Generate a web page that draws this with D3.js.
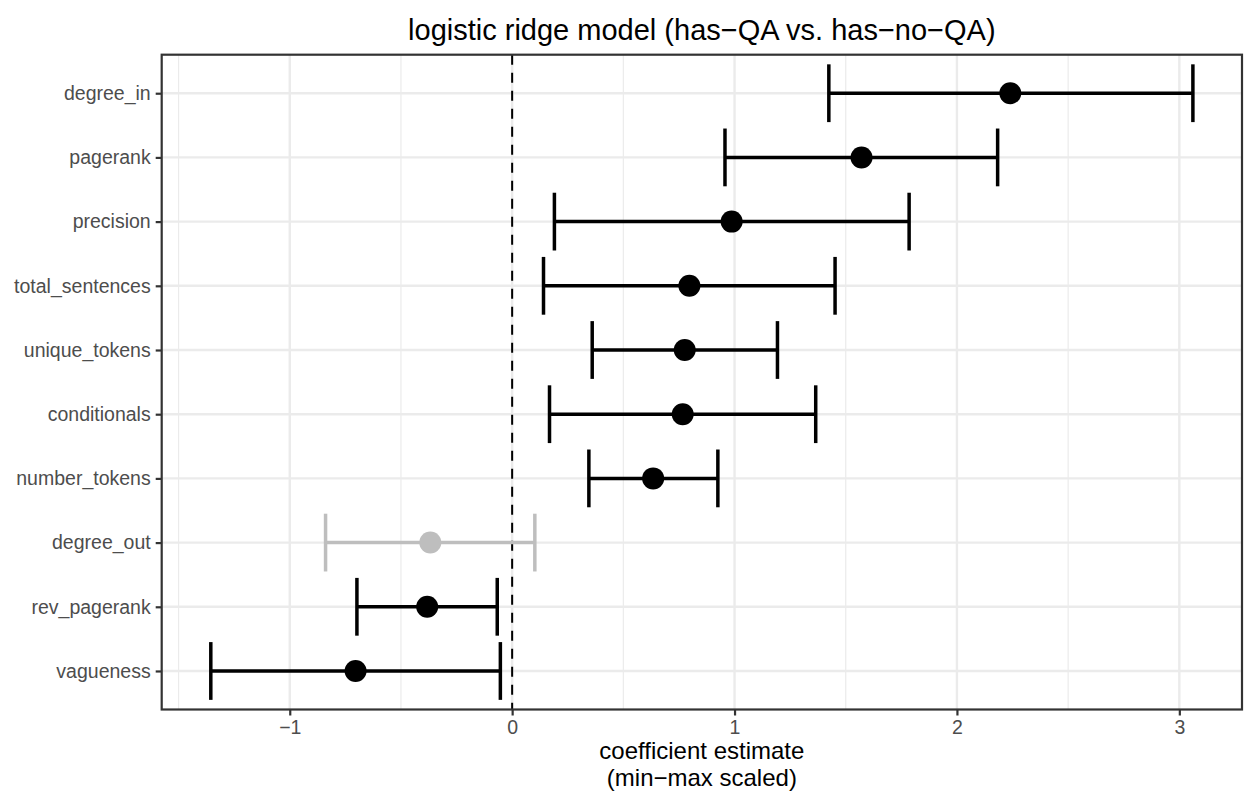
<!DOCTYPE html>
<html>
<head>
<meta charset="utf-8">
<script src="https://cdn.jsdelivr.net/npm/d3@7"></script>
<style>
  body { margin: 0; background: #fff; }
  svg { display: block; font-family: 'Liberation Sans', Arial, Helvetica, sans-serif; }
</style>
</head>
<body>
<svg id="chart"></svg>
<script>
// Data (top row first)
const features = ['degree_in', 'pagerank', 'precision', 'total_sentences', 'unique_tokens',
  'conditionals', 'number_tokens', 'degree_out', 'rev_pagerank', 'vagueness'];
const estimates = [2.24, 1.571, 0.987, 0.797, 0.776, 0.767, 0.634, -0.368, -0.382, -0.704];
const lower = [1.424, 0.957, 0.19, 0.141, 0.36, 0.168, 0.345, -0.839, -0.698, -1.355];
const upper = [3.061, 2.183, 1.785, 1.452, 1.193, 1.365, 0.925, 0.102, -0.067, -0.053];
const significant = [true, true, true, true, true, true, true, false, true, true];
const xTicks = [-1, 0, 1, 2, 3];
const xMinor = [-1.5, -0.5, 0.5, 1.5, 2.5];

// Constants
const WIDTH = 1245;
const HEIGHT = 795;
const M = { left: 161.7, right: 1242, top: 54.7, bottom: 709.5 };
const TEXT_GREY = '#4D4D4D';
const GRID = '#EBEBEB';
const BORDER = '#333333';

const rows = features.map((f, i) => ({
  name: f, est: estimates[i], lo: lower[i], hi: upper[i], sig: significant[i],
}));

// Scales (ggplot style 5% expansion on x)
const lo = d3.min(lower);
const hi = d3.max(upper);
const pad = (hi - lo) * 0.05;
const x = d3.scaleLinear([lo - pad, hi + pad], [M.left, M.right]);
const y = d3.scalePoint(features, [M.top, M.bottom]).padding(0.6);
const capH = y.step() * 0.9;

const svg = d3.select('#chart').attr('width', WIDTH).attr('height', HEIGHT);

// Grid
const grid = svg.append('g');
grid.selectAll('.minor').data(xMinor).join('line')
  .attr('x1', x).attr('x2', x).attr('y1', M.top).attr('y2', M.bottom)
  .attr('stroke', GRID).attr('stroke-width', 1.2);
grid.selectAll('.major').data(xTicks).join('line')
  .attr('x1', x).attr('x2', x).attr('y1', M.top).attr('y2', M.bottom)
  .attr('stroke', GRID).attr('stroke-width', 2.4);
grid.selectAll('.hrow').data(features).join('line')
  .attr('x1', M.left).attr('x2', M.right).attr('y1', y).attr('y2', y)
  .attr('stroke', GRID).attr('stroke-width', 2.4);

// Zero reference line
svg.append('line')
  .attr('x1', x(0)).attr('x2', x(0)).attr('y1', M.top).attr('y2', M.bottom)
  .attr('stroke', '#000').attr('stroke-width', 2).attr('stroke-dasharray', '10,8');

// Error bars and points
const marks = svg.append('g').selectAll('g').data(rows).join('g')
  .attr('stroke', (d) => (d.sig ? '#000' : '#BEBEBE'))
  .attr('fill', (d) => (d.sig ? '#000' : '#BEBEBE'));
marks.append('line')
  .attr('x1', (d) => x(d.lo)).attr('x2', (d) => x(d.hi))
  .attr('y1', (d) => y(d.name)).attr('y2', (d) => y(d.name))
  .attr('stroke-width', 3.5);
marks.append('line')
  .attr('x1', (d) => x(d.lo)).attr('x2', (d) => x(d.lo))
  .attr('y1', (d) => y(d.name) - capH / 2).attr('y2', (d) => y(d.name) + capH / 2)
  .attr('stroke-width', 3.5);
marks.append('line')
  .attr('x1', (d) => x(d.hi)).attr('x2', (d) => x(d.hi))
  .attr('y1', (d) => y(d.name) - capH / 2).attr('y2', (d) => y(d.name) + capH / 2)
  .attr('stroke-width', 3.5);
marks.append('circle')
  .attr('cx', (d) => x(d.est)).attr('cy', (d) => y(d.name)).attr('r', 11)
  .attr('stroke', 'none');

// Axes
const xAxis = svg.append('g')
  .attr('transform', `translate(0, ${M.bottom})`)
  .call(d3.axisBottom(x).tickValues(xTicks).tickSize(6).tickPadding(5)
    .tickFormat((d) => (d < 0 ? '\u2212' + Math.abs(d) : d)));
const yAxis = svg.append('g')
  .attr('transform', `translate(${M.left}, 0)`)
  .call(d3.axisLeft(y).tickSize(6).tickPadding(5));
[xAxis, yAxis].forEach((ax) => {
  ax.select('.domain').remove();
  ax.selectAll('.tick line').attr('stroke', BORDER).attr('stroke-width', 2.2);
  ax.selectAll('.tick text').attr('fill', TEXT_GREY).style('font-size', '19.5px')
    .style('font-family', "'Liberation Sans', Arial, sans-serif");
});

// Panel border
svg.append('rect')
  .attr('x', M.left).attr('y', M.top)
  .attr('width', M.right - M.left).attr('height', M.bottom - M.top)
  .attr('fill', 'none').attr('stroke', BORDER).attr('stroke-width', 2.2);

// Title and axis title
const cx = (M.left + M.right) / 2;
svg.append('text')
  .attr('x', cx).attr('y', 40).attr('text-anchor', 'middle')
  .style('font-size', '29px')
  .text('logistic ridge model (has\u2212QA vs. has\u2212no\u2212QA)');
svg.append('text')
  .attr('x', cx).attr('y', 759).attr('text-anchor', 'middle')
  .style('font-size', '24px').text('coefficient estimate');
svg.append('text')
  .attr('x', cx).attr('y', 786).attr('text-anchor', 'middle')
  .style('font-size', '24px').text('(min\u2212max scaled)');
</script>
</body>
</html>
